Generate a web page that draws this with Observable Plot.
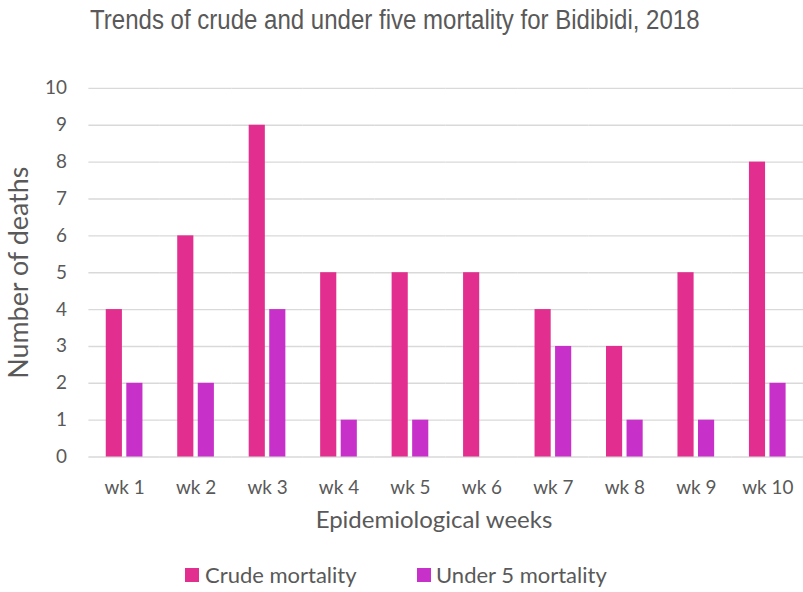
<!DOCTYPE html>
<html><head><meta charset="utf-8">
<script src="https://cdn.jsdelivr.net/npm/d3@7"></script>
<script src="https://cdn.jsdelivr.net/npm/@observablehq/plot@0.6"></script>
<style>
body{margin:0;background:#fff;width:803px;height:592px;overflow:hidden;position:relative;font-family:Lato,"Open Sans",sans-serif;color:#595959;}
#title{position:absolute;left:90px;top:4px;font-family:"Liberation Sans",Arial,sans-serif;font-size:27px;line-height:32px;color:#595959;white-space:nowrap;transform:scaleX(0.89);transform-origin:0 0;}
#chart{position:absolute;left:0;top:62px;}
#xlabel{position:absolute;top:507px;left:0;width:868px;text-align:center;font-size:24px;line-height:24px;white-space:nowrap;}
.sw{position:absolute;top:568px;width:14px;height:14px;}
.lt{position:absolute;top:563.5px;font-size:22px;line-height:22px;white-space:nowrap;}
#chart svg [aria-label="y-axis label"] text{font-size:27px;}
</style>
</head><body>
<div id="title">Trends of crude and under five mortality for Bidibidi, 2018</div>
<div id="chart"></div>
<div id="xlabel"></div>
<div id="legend"></div>
<script>
const weeks = ["wk 1","wk 2","wk 3","wk 4","wk 5","wk 6","wk 7","wk 8","wk 9","wk 10"];
const crude = [4,6,9,5,5,5,4,3,5,8];
const under5 = [2,2,4,1,1,0,3,1,1,2];
const seriesNames = ["Crude mortality","Under 5 mortality"];
const seriesColors = ["#E22E8E","#C831C9"];
const yTicks = [0,1,2,3,4,5,6,7,8,9,10];
const xTitle = "Epidemiological weeks";
const yTitle = "Number of deaths";

const rows = weeks.flatMap((w,i)=>[
  {week:w, series:seriesNames[0], value:crude[i]},
  {week:w, series:seriesNames[1], value:under5[i]}
]);

const chart = Plot.plot({
  width: 806, height: 490,
  marginLeft: 88.7, marginRight: 0, marginTop: 26, marginBottom: 94,
  style: {fontFamily: "Lato, 'Open Sans', sans-serif", fontSize: "19px", color: "#595959", background: "#fff", overflow: "visible"},
  facet: {data: rows, x: "week"},
  fx: {domain: weeks, padding: 0, round: false, label: null, tickSize: 0, tickPadding: 24},
  x: {domain: seriesNames, paddingInner: 0.214, paddingOuter: 0.847, round: false, axis: null},
  y: {domain: [0,10], ticks: yTicks, tickFormat: d3.format("d"), tickSize: 0, tickPadding: 22, label: yTitle, labelArrow: false, labelAnchor: "center", labelOffset: 80},
  color: {domain: seriesNames, range: seriesColors},
  marks: [
    Plot.ruleY(yTicks, {stroke: "#d9d9d9", strokeWidth: 1.4}),
    Plot.barY(rows, {x: "series", y: "value", fill: "series"})
  ]
});
document.getElementById("chart").appendChild(chart);
document.getElementById("xlabel").textContent = xTitle;

const legend = document.getElementById("legend");
const swatchX = [185, 417];
const textX = [205, 436];
seriesNames.forEach((s,i)=>{
  const sw = document.createElement("div");
  sw.className = "sw";
  sw.style.left = swatchX[i] + "px";
  sw.style.background = seriesColors[i];
  legend.appendChild(sw);
  const t = document.createElement("div");
  t.className = "lt";
  t.style.left = textX[i] + "px";
  t.textContent = s;
  legend.appendChild(t);
});
</script>
</body></html>
